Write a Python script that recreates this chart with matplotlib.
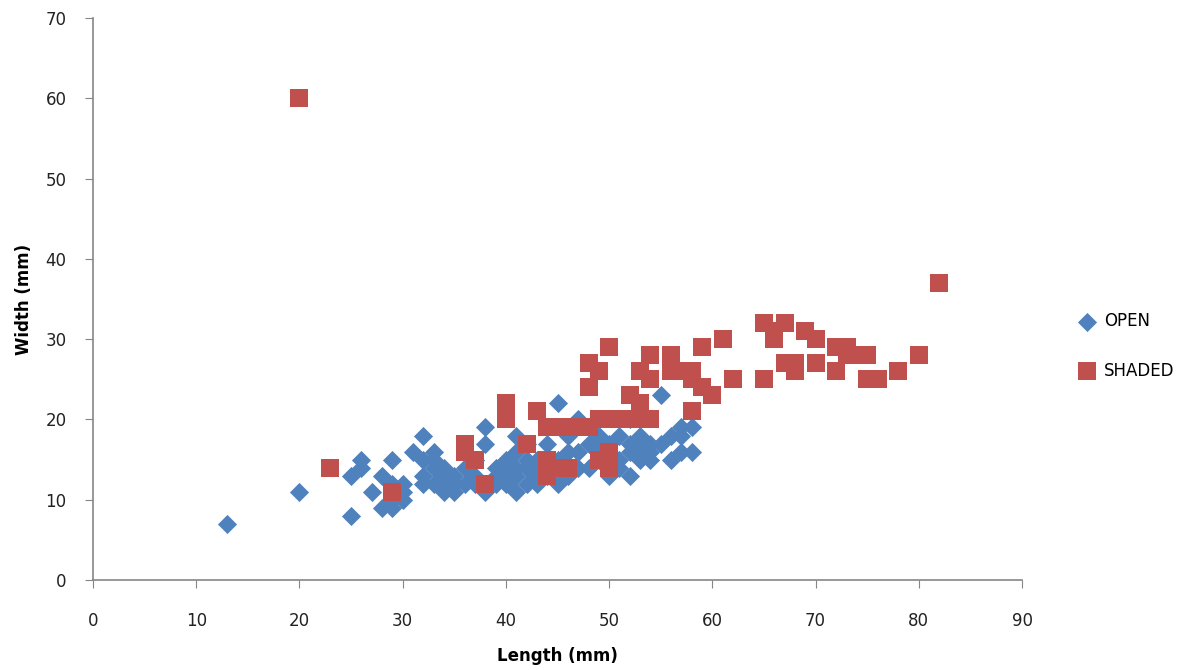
import matplotlib.pyplot as plt

# Length / width measurements (mm) for open-grown plants
open_length = [13, 20, 25, 25, 26, 26, 27, 28, 28, 29, 29, 29, 29, 30, 30, 30,
               31, 32, 32, 32, 32, 33, 33, 33, 33, 34, 34, 34, 34, 35, 35, 35,
               36, 36, 37, 37, 37, 38, 38, 38, 38, 39, 39, 39, 40, 40, 40, 40,
               41, 41, 41, 41, 41, 42, 42, 42, 42, 43, 43, 43, 44, 44, 44,
               45, 45, 45, 46, 46, 46, 47, 47, 47, 48, 48, 49, 49, 49,
               50, 50, 50, 51, 51, 51, 52, 52, 52, 52, 53, 53, 53, 54, 54, 54,
               55, 55, 56, 56, 57, 57, 57, 58, 58]
open_width = [7, 11, 8, 13, 14, 15, 11, 9, 13, 9, 10, 12, 15, 10, 11, 12,
              16, 12, 13, 15, 18, 12, 14, 15, 16, 11, 12, 13, 14, 11, 12, 13,
              12, 14, 12, 13, 15, 11, 12, 17, 19, 12, 13, 14, 12, 13, 14, 15,
              11, 13, 14, 16, 18, 12, 14, 15, 17, 12, 13, 15, 13, 14, 17,
              12, 15, 22, 13, 16, 18, 14, 16, 20, 14, 17, 15, 16, 18,
              13, 16, 17, 14, 15, 18, 13, 16, 17, 20, 15, 16, 18, 15, 16, 17,
              23, 17, 15, 18, 16, 18, 19, 16, 19]

# Length / width measurements (mm) for shaded plants
shaded_length = [20, 23, 29, 36, 36, 37, 38, 40, 40, 40, 42, 43, 44, 44, 44,
                 45, 45, 46, 46, 47, 48, 48, 48, 49, 49, 49, 50, 50, 50, 50, 50,
                 51, 52, 52, 53, 53, 53, 54, 54, 54, 56, 56, 57, 58, 58, 58,
                 59, 59, 60, 61, 62, 65, 65, 66, 66, 67, 67, 68, 68, 69, 70, 70,
                 72, 72, 73, 73, 74, 75, 75, 76, 78, 80, 82]
shaded_width = [60, 14, 11, 16, 17, 15, 12, 20, 21, 22, 17, 21, 13, 15, 19,
                14, 19, 14, 19, 19, 19, 24, 27, 15, 20, 26, 14, 15, 16, 20, 29,
                20, 20, 23, 20, 22, 26, 20, 25, 28, 26, 28, 26, 21, 25, 26,
                24, 29, 23, 30, 25, 25, 32, 30, 31, 32, 27, 26, 27, 31, 27, 30,
                26, 29, 28, 29, 28, 25, 28, 25, 26, 28, 37]

blue = '#4F81BD'
red = '#C0504D'
axis_grey = '#868686'

fig = plt.figure(figsize=(11.93, 6.70), dpi=100)
ax = fig.add_axes([0.078, 0.1343, 0.7787, 0.8388])

ax.scatter(open_length, open_width, marker='D', s=95, color=blue,
           linewidths=0, label='OPEN', zorder=2)
ax.scatter(shaded_length, shaded_width, marker='s', s=175, color=red,
           linewidths=0, label='SHADED', zorder=3)

ax.set_xlim(0, 90)
ax.set_ylim(0, 70)
ax.set_xticks(range(0, 91, 10))
ax.set_yticks(range(0, 71, 10))

for side in ('top', 'right'):
    ax.spines[side].set_visible(False)
for side in ('left', 'bottom'):
    ax.spines[side].set_color(axis_grey)
    ax.spines[side].set_linewidth(1.2)
ax.tick_params(direction='out', length=6, color=axis_grey,
               labelsize=12, labelcolor='#222222')
ax.tick_params(axis='x', pad=17)
ax.tick_params(axis='y', pad=13)

ax.set_xlabel('Length (mm)', fontsize=12, fontweight='bold', labelpad=12)
ax.set_ylabel('Width (mm)', fontsize=12, fontweight='bold', labelpad=9)

fig.legend(loc='center left', bbox_to_anchor=(0.885, 0.484), frameon=False,
           fontsize=12, handletextpad=0.0, labelspacing=1.9, markerscale=1.0)

fig.savefig('out.png', dpi=100, facecolor='white')
